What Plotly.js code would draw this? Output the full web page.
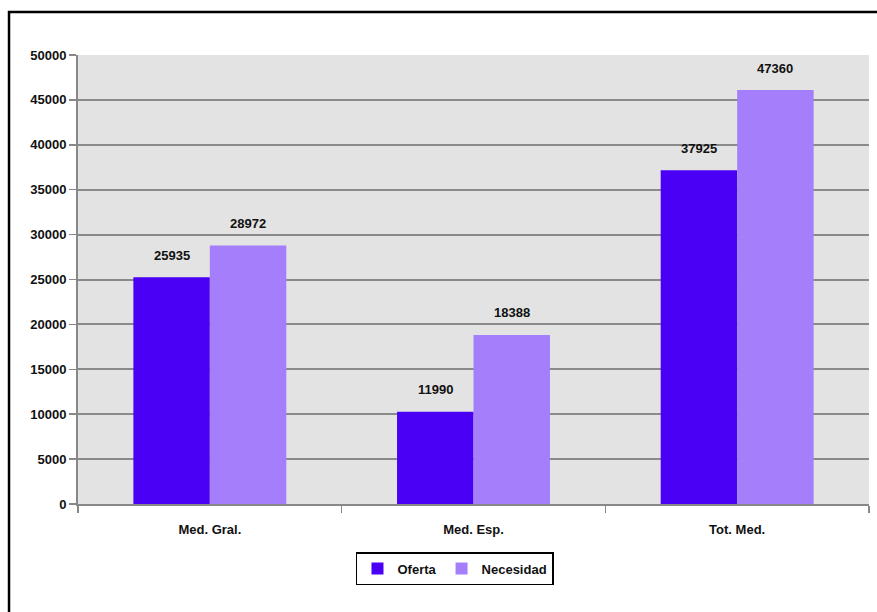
<!DOCTYPE html>
<html>
<head>
<meta charset="utf-8">
<script src="https://cdn.plot.ly/plotly-3.0.1.min.js"></script>
<style>
  html, body { margin: 0; padding: 0; background: #ffffff; overflow: hidden; }
  #chart { width: 877px; height: 612px; }
</style>
</head>
<body>
<div id="chart"></div>
<script>
// Data
const categories = ["Med. Gral.", "Med. Esp.", "Tot. Med."];
const seriesNames = ["Oferta", "Necesidad"];
// Bar heights as drawn in the reference
const oferta = [25250, 10270, 37170];
const necesidad = [28800, 18830, 46100];
// Value labels printed above the bars
const ofertaLabels = ["25935", "11990", "37925"];
const necesidadLabels = ["28972", "18388", "47360"];
const yTicks = [0, 5000, 10000, 15000, 20000, 25000, 30000, 35000, 40000, 45000, 50000];

const FONT = '"Liberation Sans", Arial, sans-serif';
const colors = ["#4a00f4", "#a47efb"];

const traces = [
  { type: "bar", name: seriesNames[0], x: categories, y: oferta,
    marker: { color: colors[0] }, hoverinfo: "none" },
  { type: "bar", name: seriesNames[1], x: categories, y: necesidad,
    marker: { color: colors[1] }, hoverinfo: "none" }
];

const annotations = [];
categories.forEach((c, i) => {
  annotations.push({ x: c, y: oferta[i], xref: "x", yref: "y", text: "<b>" + ofertaLabels[i] + "</b>",
    showarrow: false, xshift: -38, yshift: 22, font: { family: FONT, size: 13, color: "#111" } });
  annotations.push({ x: c, y: necesidad[i], xref: "x", yref: "y", text: "<b>" + necesidadLabels[i] + "</b>",
    showarrow: false, xshift: 38, yshift: 22, font: { family: FONT, size: 13, color: "#111" } });
});

const layout = {
  width: 877, height: 612,
  margin: { l: 78, r: 8, t: 55, b: 108 },
  paper_bgcolor: "#ffffff",
  plot_bgcolor: "#e3e3e3",
  barmode: "group",
  bargap: 0.42,
  bargroupgap: 0,
  font: { family: FONT, size: 13, color: "#111" },
  xaxis: {
    type: "category",
    tickson: "boundaries",
    ticks: "outside", ticklen: 7, tickwidth: 1.5, tickcolor: "#888",
    showline: true, linecolor: "#888", linewidth: 2,
    showgrid: false,
    ticklabelstandoff: 12,
    tickfont: { family: FONT, size: 13, color: "#111", weight: "bold" },
    fixedrange: true
  },
  yaxis: {
    range: [0, 50000],
    tickvals: yTicks,
    ticktext: yTicks.map(String),
    ticks: "outside", ticklen: 7, tickwidth: 1.5, tickcolor: "#888",
    showline: true, linecolor: "#888", linewidth: 2,
    gridcolor: "#8a8a8a", gridwidth: 2,
    zeroline: false,
    tickfont: { family: FONT, size: 13, color: "#111", weight: "bold" },
    fixedrange: true
  },
  showlegend: true,
  legend: {
    orientation: "h",
    x: 0.4766, xanchor: "center",
    y: -0.107, yanchor: "top",
    bgcolor: "#ffffff",
    bordercolor: "#000000", borderwidth: 1.5,
    font: { family: FONT, size: 13, color: "#111", weight: "bold" },
    itemwidth: 30
  },
  annotations: annotations,
  shapes: [
    { type: "path", xref: "paper", yref: "paper",
      path: "M -0.0872 -0.3 L -0.0872 1.0958 L 1.02 1.0958",
      line: { color: "#000", width: 2.5 } }
  ]
};

Plotly.newPlot("chart", traces, layout, { displayModeBar: false, staticPlot: true });
</script>
</body>
</html>
